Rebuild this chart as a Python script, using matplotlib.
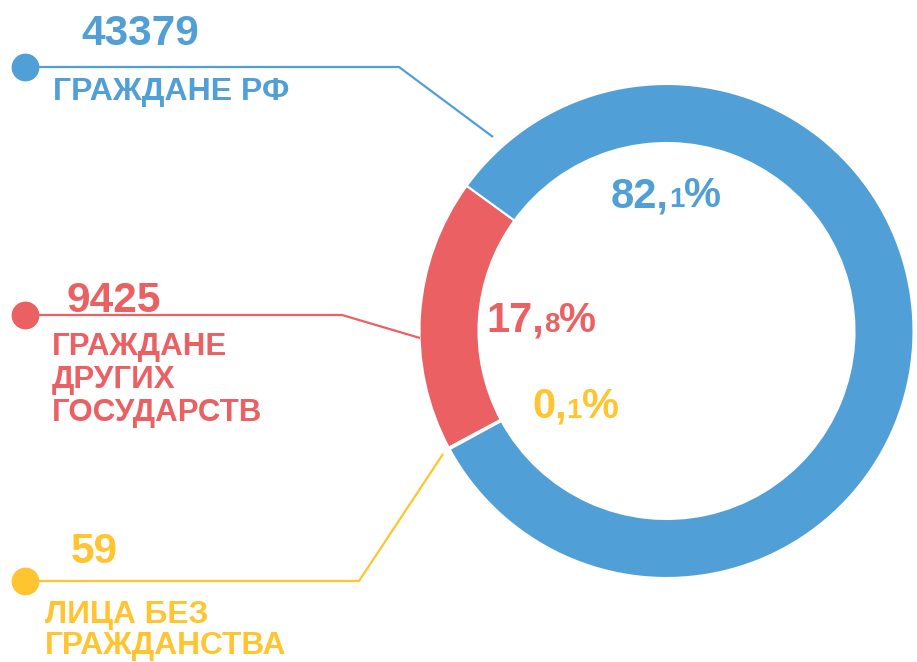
import matplotlib
matplotlib.use("Agg")
import matplotlib.pyplot as plt

# data
counts = [43379, 9425, 59]
pct_big = ["82,", "17,", "0,"]
pct_small = ["1", "8", "1"]
labels = [["ГРАЖДАНЕ РФ"],
          ["ГРАЖДАНЕ", "ДРУГИХ", "ГОСУДАРСТВ"],
          ["ЛИЦА БЕЗ", "ГРАЖДАНСТВА"]]
colors = ["#519FD7", "#EB6062", "#FFC42F"]

plt.rcParams['font.family'] = ['Liberation Sans', 'DejaVu Sans']
plt.rcParams['font.weight'] = 'bold'

W, H = 917, 662
fig = plt.figure(figsize=(W / 100, H / 100), dpi=100)
ax = fig.add_axes([0, 0, 1, 1])


def py(y):
    # pixel row -> data y
    return H - y


# donut: red, yellow, blue going counter-clockwise from the top-left
cx, cy = 666.5, py(331)
ax.pie([counts[1], counts[2], counts[0]], colors=[colors[1], colors[2], colors[0]],
       startangle=144, counterclock=True, center=(cx, cy), radius=247,
       wedgeprops=dict(width=59, edgecolor='white', linewidth=1.5))
ax.set_xlim(0, W)
ax.set_ylim(0, H)
ax.set_aspect('equal')
ax.axis('off')

# leader lines with dots
leaders = [
    [(25, 67), (399, 67), (493, 137)],
    [(25, 315), (342, 315), (420, 338)],
    [(25, 581), (359, 581), (443, 454)],
]
for pts, c in zip(leaders, colors):
    xs = [p[0] for p in pts]
    ys = [py(p[1]) for p in pts]
    ax.plot(xs, ys, color=c, lw=1.6, solid_capstyle='butt', zorder=3)
    ax.plot(xs[0], ys[0], 'o', color=c, ms=19, zorder=4)

# big numbers and category names
num_pos = [(81, 45), (67, 312), (71, 563)]
lab_pos = [(53, [100]), (52, [355, 388, 421]), (45, [623, 654])]
lab_size = [23, 22.5, 22.8]
for i in range(3):
    ax.text(num_pos[i][0], py(num_pos[i][1]), str(counts[i]), color=colors[i],
            fontsize=30.5, fontweight='bold', va='baseline', ha='left')
    x0, ys = lab_pos[i]
    for line, yb in zip(labels[i], ys):
        ax.text(x0, py(yb), line, color=colors[i], fontsize=lab_size[i],
                fontweight='bold', va='baseline', ha='left')

# percentages with a small decimal digit
fig.canvas.draw()
renderer = fig.canvas.get_renderer()
pct_pos = [(611, 207), (486, 332), (532, 418)]
for i in range(3):
    x, yb = pct_pos[i]
    for s, size in [(pct_big[i], 30), (pct_small[i], 20), ("%", 30)]:
        t = ax.text(x, py(yb), s, color=colors[i], fontsize=size,
                    fontweight='bold', va='baseline', ha='left')
        bb = t.get_window_extent(renderer)
        x += bb.width

fig.savefig("out.png", dpi=100)
